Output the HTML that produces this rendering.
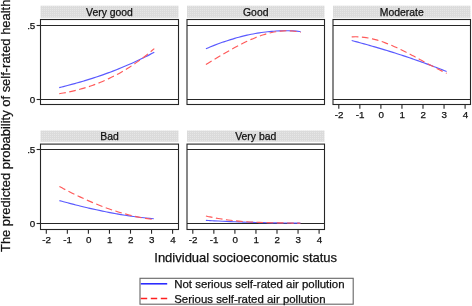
<!DOCTYPE html>
<html><head><meta charset="utf-8"><style>
html,body{margin:0;padding:0;background:#fff;}
body{width:472px;height:306px;overflow:hidden;}
svg{display:block;font-family:"Liberation Sans", sans-serif;will-change:transform;}
text{stroke:#111;stroke-width:0.25px;}
</style></head><body>
<svg width="472" height="306" viewBox="0 0 472 306">
<defs><pattern id="dots" width="2" height="2" patternUnits="userSpaceOnUse"><rect width="2" height="2" fill="#dbdbdb"/><rect width="1" height="1" fill="#e6e6e6"/></pattern></defs>
<rect x="0" y="0" width="472" height="306" fill="#fff"/>
<rect x="40.50" y="5.70" width="138.00" height="12.10" fill="url(#dots)"/>
<text x="109.50" y="15.80" font-size="10.40" text-anchor="middle" fill="#111">Very good</text>
<line x1="40.50" x2="178.50" y1="99.50" y2="99.50" stroke="#262626" stroke-width="1.1"/>
<line x1="40.50" x2="178.50" y1="25.50" y2="25.50" stroke="#262626" stroke-width="1.1"/>
<rect x="40.50" y="19.50" width="138.00" height="85.00" fill="none" stroke="#262626" stroke-width="1.1"/>
<line x1="36.6" x2="40.50" y1="99.50" y2="99.50" stroke="#262626" stroke-width="1.1"/>
<text x="35.3" y="102.90" font-size="9.80" text-anchor="end" fill="#111">0</text>
<line x1="36.6" x2="40.50" y1="25.50" y2="25.50" stroke="#262626" stroke-width="1.1"/>
<text x="35.3" y="28.90" font-size="9.80" text-anchor="end" fill="#111">.5</text>
<path d="M59.20,87.59 C59.89,87.42 61.96,86.91 63.33,86.57 C64.71,86.22 66.09,85.87 67.47,85.52 C68.85,85.16 70.23,84.80 71.60,84.43 C72.98,84.06 74.36,83.68 75.74,83.30 C77.12,82.91 78.50,82.52 79.87,82.13 C81.25,81.73 82.63,81.32 84.01,80.91 C85.39,80.50 86.77,80.08 88.14,79.66 C89.52,79.23 90.90,78.79 92.28,78.35 C93.66,77.91 95.03,77.46 96.41,77.00 C97.79,76.54 99.17,76.08 100.55,75.60 C101.93,75.13 103.30,74.64 104.68,74.15 C106.06,73.66 107.44,73.16 108.82,72.65 C110.20,72.14 111.57,71.62 112.95,71.09 C114.33,70.56 115.71,70.03 117.09,69.48 C118.47,68.93 119.84,68.38 121.22,67.81 C122.60,67.24 123.98,66.67 125.36,66.08 C126.73,65.50 128.11,64.90 129.49,64.29 C130.87,63.69 132.25,63.07 133.63,62.44 C135.00,61.81 136.38,61.18 137.76,60.53 C139.14,59.88 140.52,59.22 141.90,58.55 C143.27,57.88 144.65,57.19 146.03,56.50 C147.41,55.81 148.79,55.10 150.17,54.38 C151.54,53.67 153.61,52.56 154.30,52.20" fill="none" stroke="#5a5aff" stroke-width="1.15"/>
<path d="M59.20,93.74 C59.89,93.63 61.96,93.30 63.33,93.05 C64.71,92.80 66.09,92.54 67.47,92.26 C68.85,91.98 70.23,91.69 71.60,91.38 C72.98,91.07 74.36,90.75 75.74,90.40 C77.12,90.06 78.50,89.70 79.87,89.32 C81.25,88.94 82.63,88.55 84.01,88.13 C85.39,87.72 86.77,87.29 88.14,86.84 C89.52,86.39 90.90,85.92 92.28,85.43 C93.66,84.94 95.03,84.44 96.41,83.91 C97.79,83.38 99.17,82.83 100.55,82.27 C101.93,81.70 103.30,81.11 104.68,80.50 C106.06,79.89 107.44,79.27 108.82,78.62 C110.20,77.96 111.57,77.29 112.95,76.60 C114.33,75.90 115.71,75.19 117.09,74.45 C118.47,73.71 119.84,72.95 121.22,72.16 C122.60,71.38 123.98,70.57 125.36,69.74 C126.73,68.91 128.11,68.06 129.49,67.18 C130.87,66.30 132.25,65.39 133.63,64.47 C135.00,63.54 136.38,62.59 137.76,61.61 C139.14,60.63 140.52,59.63 141.90,58.60 C143.27,57.57 144.65,56.51 146.03,55.43 C147.41,54.35 148.79,53.24 150.17,52.10 C151.54,50.97 153.61,49.20 154.30,48.62" fill="none" stroke="#ff5a5a" stroke-width="1.15" stroke-dasharray="6.7 3.5"/>
<rect x="187.00" y="5.70" width="137.50" height="12.10" fill="url(#dots)"/>
<text x="255.75" y="15.80" font-size="10.40" text-anchor="middle" fill="#111">Good</text>
<line x1="187.00" x2="324.50" y1="99.50" y2="99.50" stroke="#262626" stroke-width="1.1"/>
<line x1="187.00" x2="324.50" y1="25.50" y2="25.50" stroke="#262626" stroke-width="1.1"/>
<rect x="187.00" y="19.50" width="137.50" height="85.00" fill="none" stroke="#262626" stroke-width="1.1"/>
<path d="M205.90,48.74 C206.59,48.46 208.64,47.59 210.02,47.03 C211.39,46.47 212.76,45.92 214.13,45.38 C215.51,44.85 216.88,44.33 218.25,43.82 C219.62,43.31 221.00,42.81 222.37,42.33 C223.74,41.85 225.11,41.38 226.49,40.92 C227.86,40.47 229.23,40.03 230.60,39.60 C231.98,39.17 233.35,38.76 234.72,38.36 C236.09,37.96 237.47,37.58 238.84,37.21 C240.21,36.84 241.58,36.48 242.96,36.14 C244.33,35.81 245.70,35.48 247.07,35.17 C248.45,34.86 249.82,34.57 251.19,34.29 C252.56,34.01 253.94,33.75 255.31,33.50 C256.68,33.25 258.05,33.02 259.43,32.81 C260.80,32.59 262.17,32.39 263.54,32.21 C264.92,32.03 266.29,31.86 267.66,31.72 C269.03,31.57 270.41,31.44 271.78,31.32 C273.15,31.21 274.52,31.11 275.90,31.03 C277.27,30.95 278.64,30.89 280.01,30.84 C281.39,30.80 282.76,30.77 284.13,30.77 C285.50,30.76 286.88,30.77 288.25,30.80 C289.62,30.82 290.99,30.87 292.37,30.94 C293.74,31.00 295.11,31.09 296.48,31.19 C297.86,31.29 299.91,31.50 300.60,31.56" fill="none" stroke="#5a5aff" stroke-width="1.15"/>
<path d="M205.90,64.55 C206.59,64.13 208.64,62.88 210.02,62.05 C211.39,61.22 212.76,60.38 214.13,59.55 C215.51,58.72 216.88,57.89 218.25,57.07 C219.62,56.24 221.00,55.42 222.37,54.61 C223.74,53.80 225.11,52.99 226.49,52.19 C227.86,51.40 229.23,50.61 230.60,49.83 C231.98,49.06 233.35,48.29 234.72,47.54 C236.09,46.79 237.47,46.06 238.84,45.34 C240.21,44.62 241.58,43.92 242.96,43.23 C244.33,42.55 245.70,41.89 247.07,41.24 C248.45,40.60 249.82,39.98 251.19,39.38 C252.56,38.78 253.94,38.21 255.31,37.66 C256.68,37.11 258.05,36.59 259.43,36.10 C260.80,35.61 262.17,35.14 263.54,34.71 C264.92,34.28 266.29,33.87 267.66,33.50 C269.03,33.14 270.41,32.80 271.78,32.50 C273.15,32.20 274.52,31.94 275.90,31.71 C277.27,31.49 278.64,31.30 280.01,31.16 C281.39,31.01 282.76,30.90 284.13,30.84 C285.50,30.78 286.88,30.76 288.25,30.79 C289.62,30.81 290.99,30.88 292.37,31.00 C293.74,31.12 295.11,31.29 296.48,31.51 C297.86,31.73 299.91,32.18 300.60,32.32" fill="none" stroke="#ff5a5a" stroke-width="1.15" stroke-dasharray="6.7 3.5"/>
<rect x="333.00" y="5.70" width="137.50" height="12.10" fill="url(#dots)"/>
<text x="401.75" y="15.80" font-size="10.40" text-anchor="middle" fill="#111">Moderate</text>
<line x1="333.00" x2="470.50" y1="99.50" y2="99.50" stroke="#262626" stroke-width="1.1"/>
<line x1="333.00" x2="470.50" y1="25.50" y2="25.50" stroke="#262626" stroke-width="1.1"/>
<rect x="333.00" y="19.50" width="137.50" height="85.00" fill="none" stroke="#262626" stroke-width="1.1"/>
<line x1="338.80" x2="338.80" y1="104.50" y2="108.70" stroke="#262626" stroke-width="1.1"/>
<text x="339.10" y="118.15" font-size="9.80" text-anchor="middle" fill="#111">-2</text>
<line x1="359.85" x2="359.85" y1="104.50" y2="108.70" stroke="#262626" stroke-width="1.1"/>
<text x="360.15" y="118.15" font-size="9.80" text-anchor="middle" fill="#111">-1</text>
<line x1="380.90" x2="380.90" y1="104.50" y2="108.70" stroke="#262626" stroke-width="1.1"/>
<text x="381.20" y="118.15" font-size="9.80" text-anchor="middle" fill="#111">0</text>
<line x1="401.95" x2="401.95" y1="104.50" y2="108.70" stroke="#262626" stroke-width="1.1"/>
<text x="402.25" y="118.15" font-size="9.80" text-anchor="middle" fill="#111">1</text>
<line x1="423.00" x2="423.00" y1="104.50" y2="108.70" stroke="#262626" stroke-width="1.1"/>
<text x="423.30" y="118.15" font-size="9.80" text-anchor="middle" fill="#111">2</text>
<line x1="444.05" x2="444.05" y1="104.50" y2="108.70" stroke="#262626" stroke-width="1.1"/>
<text x="444.35" y="118.15" font-size="9.80" text-anchor="middle" fill="#111">3</text>
<line x1="465.10" x2="465.10" y1="104.50" y2="108.70" stroke="#262626" stroke-width="1.1"/>
<text x="465.40" y="118.15" font-size="9.80" text-anchor="middle" fill="#111">4</text>
<path d="M351.70,40.54 C352.39,40.72 354.45,41.26 355.83,41.62 C357.20,41.99 358.58,42.36 359.95,42.73 C361.33,43.10 362.70,43.48 364.08,43.86 C365.45,44.24 366.83,44.62 368.20,45.01 C369.58,45.39 370.96,45.78 372.33,46.18 C373.71,46.57 375.08,46.97 376.46,47.38 C377.83,47.78 379.21,48.18 380.58,48.59 C381.96,49.00 383.33,49.42 384.71,49.84 C386.08,50.25 387.46,50.68 388.83,51.10 C390.21,51.53 391.59,51.96 392.96,52.39 C394.34,52.83 395.71,53.27 397.09,53.71 C398.46,54.15 399.84,54.60 401.21,55.05 C402.59,55.50 403.96,55.95 405.34,56.41 C406.71,56.87 408.09,57.33 409.47,57.80 C410.84,58.27 412.22,58.74 413.59,59.22 C414.97,59.69 416.34,60.17 417.72,60.66 C419.09,61.14 420.47,61.63 421.84,62.12 C423.22,62.62 424.59,63.11 425.97,63.62 C427.34,64.12 428.72,64.62 430.10,65.14 C431.47,65.65 432.85,66.16 434.22,66.68 C435.60,67.20 436.97,67.73 438.35,68.26 C439.72,68.78 441.10,69.32 442.47,69.86 C443.85,70.39 445.91,71.21 446.60,71.48" fill="none" stroke="#5a5aff" stroke-width="1.15"/>
<path d="M351.70,36.87 C352.39,36.85 354.45,36.74 355.83,36.75 C357.20,36.75 358.58,36.80 359.95,36.90 C361.33,36.99 362.70,37.13 364.08,37.31 C365.45,37.48 366.83,37.70 368.20,37.96 C369.58,38.21 370.96,38.50 372.33,38.83 C373.71,39.16 375.08,39.52 376.46,39.91 C377.83,40.30 379.21,40.73 380.58,41.18 C381.96,41.63 383.33,42.11 384.71,42.62 C386.08,43.13 387.46,43.66 388.83,44.22 C390.21,44.77 391.59,45.36 392.96,45.95 C394.34,46.55 395.71,47.18 397.09,47.81 C398.46,48.45 399.84,49.11 401.21,49.77 C402.59,50.44 403.96,51.13 405.34,51.82 C406.71,52.52 408.09,53.23 409.47,53.94 C410.84,54.66 412.22,55.38 413.59,56.11 C414.97,56.84 416.34,57.58 417.72,58.32 C419.09,59.06 420.47,59.81 421.84,60.55 C423.22,61.29 424.59,62.04 425.97,62.78 C427.34,63.52 428.72,64.26 430.10,64.99 C431.47,65.73 432.85,66.46 434.22,67.18 C435.60,67.90 436.97,68.61 438.35,69.31 C439.72,70.01 441.10,70.70 442.47,71.38 C443.85,72.05 445.91,73.03 446.60,73.36" fill="none" stroke="#ff5a5a" stroke-width="1.15" stroke-dasharray="6.7 3.5"/>
<rect x="40.50" y="130.50" width="138.00" height="11.25" fill="url(#dots)"/>
<text x="109.50" y="139.75" font-size="10.40" text-anchor="middle" fill="#111">Bad</text>
<line x1="40.50" x2="178.50" y1="223.50" y2="223.50" stroke="#262626" stroke-width="1.1"/>
<line x1="40.50" x2="178.50" y1="149.50" y2="149.50" stroke="#262626" stroke-width="1.1"/>
<rect x="40.50" y="144.10" width="138.00" height="85.40" fill="none" stroke="#262626" stroke-width="1.1"/>
<line x1="36.6" x2="40.50" y1="223.50" y2="223.50" stroke="#262626" stroke-width="1.1"/>
<text x="35.3" y="226.90" font-size="9.80" text-anchor="end" fill="#111">0</text>
<line x1="36.6" x2="40.50" y1="149.50" y2="149.50" stroke="#262626" stroke-width="1.1"/>
<text x="35.3" y="152.90" font-size="9.80" text-anchor="end" fill="#111">.5</text>
<line x1="46.30" x2="46.30" y1="229.50" y2="233.70" stroke="#262626" stroke-width="1.1"/>
<text x="46.60" y="243.15" font-size="9.80" text-anchor="middle" fill="#111">-2</text>
<line x1="67.35" x2="67.35" y1="229.50" y2="233.70" stroke="#262626" stroke-width="1.1"/>
<text x="67.65" y="243.15" font-size="9.80" text-anchor="middle" fill="#111">-1</text>
<line x1="88.40" x2="88.40" y1="229.50" y2="233.70" stroke="#262626" stroke-width="1.1"/>
<text x="88.70" y="243.15" font-size="9.80" text-anchor="middle" fill="#111">0</text>
<line x1="109.45" x2="109.45" y1="229.50" y2="233.70" stroke="#262626" stroke-width="1.1"/>
<text x="109.75" y="243.15" font-size="9.80" text-anchor="middle" fill="#111">1</text>
<line x1="130.50" x2="130.50" y1="229.50" y2="233.70" stroke="#262626" stroke-width="1.1"/>
<text x="130.80" y="243.15" font-size="9.80" text-anchor="middle" fill="#111">2</text>
<line x1="151.55" x2="151.55" y1="229.50" y2="233.70" stroke="#262626" stroke-width="1.1"/>
<text x="151.85" y="243.15" font-size="9.80" text-anchor="middle" fill="#111">3</text>
<line x1="172.60" x2="172.60" y1="229.50" y2="233.70" stroke="#262626" stroke-width="1.1"/>
<text x="172.90" y="243.15" font-size="9.80" text-anchor="middle" fill="#111">4</text>
<path d="M59.40,200.60 C60.08,200.78 62.14,201.35 63.50,201.72 C64.87,202.09 66.24,202.45 67.61,202.81 C68.98,203.17 70.34,203.53 71.71,203.89 C73.08,204.24 74.45,204.59 75.82,204.94 C77.19,205.28 78.55,205.63 79.92,205.96 C81.29,206.30 82.66,206.63 84.03,206.96 C85.39,207.29 86.76,207.62 88.13,207.94 C89.50,208.25 90.87,208.57 92.23,208.88 C93.60,209.19 94.97,209.49 96.34,209.79 C97.71,210.09 99.08,210.39 100.44,210.68 C101.81,210.96 103.18,211.25 104.55,211.53 C105.92,211.80 107.28,212.08 108.65,212.34 C110.02,212.61 111.39,212.87 112.76,213.12 C114.12,213.38 115.49,213.63 116.86,213.87 C118.23,214.11 119.60,214.35 120.97,214.58 C122.33,214.81 123.70,215.03 125.07,215.25 C126.44,215.46 127.81,215.67 129.17,215.88 C130.54,216.08 131.91,216.28 133.28,216.47 C134.65,216.65 136.01,216.84 137.38,217.01 C138.75,217.19 140.12,217.35 141.49,217.51 C142.86,217.67 144.22,217.83 145.59,217.97 C146.96,218.11 148.33,218.25 149.70,218.38 C151.06,218.51 153.12,218.68 153.80,218.74" fill="none" stroke="#5a5aff" stroke-width="1.15"/>
<path d="M59.40,186.47 C60.08,186.84 62.14,187.94 63.50,188.66 C64.87,189.39 66.24,190.10 67.61,190.80 C68.98,191.51 70.34,192.20 71.71,192.89 C73.08,193.57 74.45,194.25 75.82,194.91 C77.19,195.58 78.55,196.23 79.92,196.88 C81.29,197.52 82.66,198.16 84.03,198.78 C85.39,199.40 86.76,200.01 88.13,200.62 C89.50,201.22 90.87,201.81 92.23,202.39 C93.60,202.96 94.97,203.53 96.34,204.09 C97.71,204.64 99.08,205.19 100.44,205.72 C101.81,206.25 103.18,206.77 104.55,207.28 C105.92,207.78 107.28,208.28 108.65,208.76 C110.02,209.24 111.39,209.71 112.76,210.17 C114.12,210.62 115.49,211.06 116.86,211.49 C118.23,211.92 119.60,212.34 120.97,212.74 C122.33,213.14 123.70,213.53 125.07,213.91 C126.44,214.28 127.81,214.64 129.17,214.99 C130.54,215.33 131.91,215.66 133.28,215.98 C134.65,216.30 136.01,216.60 137.38,216.89 C138.75,217.17 140.12,217.44 141.49,217.70 C142.86,217.96 144.22,218.20 145.59,218.42 C146.96,218.65 148.33,218.86 149.70,219.05 C151.06,219.24 153.12,219.49 153.80,219.58" fill="none" stroke="#ff5a5a" stroke-width="1.15" stroke-dasharray="6.7 3.5"/>
<rect x="187.00" y="130.50" width="137.50" height="11.25" fill="url(#dots)"/>
<text x="255.75" y="139.75" font-size="10.40" text-anchor="middle" fill="#111">Very bad</text>
<line x1="187.00" x2="324.50" y1="223.50" y2="223.50" stroke="#262626" stroke-width="1.1"/>
<line x1="187.00" x2="324.50" y1="149.50" y2="149.50" stroke="#262626" stroke-width="1.1"/>
<rect x="187.00" y="144.10" width="137.50" height="85.40" fill="none" stroke="#262626" stroke-width="1.1"/>
<line x1="192.80" x2="192.80" y1="229.50" y2="233.70" stroke="#262626" stroke-width="1.1"/>
<text x="193.10" y="243.15" font-size="9.80" text-anchor="middle" fill="#111">-2</text>
<line x1="213.85" x2="213.85" y1="229.50" y2="233.70" stroke="#262626" stroke-width="1.1"/>
<text x="214.15" y="243.15" font-size="9.80" text-anchor="middle" fill="#111">-1</text>
<line x1="234.90" x2="234.90" y1="229.50" y2="233.70" stroke="#262626" stroke-width="1.1"/>
<text x="235.20" y="243.15" font-size="9.80" text-anchor="middle" fill="#111">0</text>
<line x1="255.95" x2="255.95" y1="229.50" y2="233.70" stroke="#262626" stroke-width="1.1"/>
<text x="256.25" y="243.15" font-size="9.80" text-anchor="middle" fill="#111">1</text>
<line x1="277.00" x2="277.00" y1="229.50" y2="233.70" stroke="#262626" stroke-width="1.1"/>
<text x="277.30" y="243.15" font-size="9.80" text-anchor="middle" fill="#111">2</text>
<line x1="298.05" x2="298.05" y1="229.50" y2="233.70" stroke="#262626" stroke-width="1.1"/>
<text x="298.35" y="243.15" font-size="9.80" text-anchor="middle" fill="#111">3</text>
<line x1="319.10" x2="319.10" y1="229.50" y2="233.70" stroke="#262626" stroke-width="1.1"/>
<text x="319.40" y="243.15" font-size="9.80" text-anchor="middle" fill="#111">4</text>
<path d="M205.90,220.36 C206.58,220.40 208.64,220.52 210.01,220.59 C211.38,220.67 212.75,220.74 214.12,220.82 C215.49,220.89 216.86,220.96 218.23,221.03 C219.60,221.09 220.97,221.16 222.33,221.23 C223.70,221.29 225.07,221.35 226.44,221.42 C227.81,221.48 229.18,221.54 230.55,221.60 C231.92,221.65 233.29,221.71 234.66,221.77 C236.03,221.82 237.40,221.87 238.77,221.92 C240.14,221.98 241.51,222.02 242.88,222.07 C244.25,222.12 245.62,222.17 246.99,222.21 C248.36,222.25 249.73,222.30 251.10,222.34 C252.47,222.38 253.83,222.42 255.20,222.46 C256.57,222.49 257.94,222.53 259.31,222.56 C260.68,222.60 262.05,222.63 263.42,222.66 C264.79,222.69 266.16,222.72 267.53,222.75 C268.90,222.78 270.27,222.80 271.64,222.82 C273.01,222.85 274.38,222.87 275.75,222.89 C277.12,222.91 278.49,222.93 279.86,222.95 C281.23,222.97 282.60,222.98 283.97,223.00 C285.33,223.01 286.70,223.02 288.07,223.03 C289.44,223.04 290.81,223.05 292.18,223.06 C293.55,223.07 294.92,223.07 296.29,223.08 C297.66,223.08 299.72,223.08 300.40,223.08" fill="none" stroke="#5a5aff" stroke-width="1.15"/>
<path d="M205.90,215.98 C206.58,216.13 208.64,216.61 210.01,216.90 C211.38,217.19 212.75,217.47 214.12,217.73 C215.49,218.00 216.86,218.24 218.23,218.48 C219.60,218.72 220.97,218.94 222.33,219.15 C223.70,219.36 225.07,219.56 226.44,219.74 C227.81,219.93 229.18,220.10 230.55,220.27 C231.92,220.43 233.29,220.58 234.66,220.73 C236.03,220.87 237.40,221.00 238.77,221.13 C240.14,221.25 241.51,221.36 242.88,221.47 C244.25,221.58 245.62,221.67 246.99,221.76 C248.36,221.85 249.73,221.94 251.10,222.01 C252.47,222.09 253.83,222.16 255.20,222.22 C256.57,222.28 257.94,222.34 259.31,222.39 C260.68,222.44 262.05,222.49 263.42,222.53 C264.79,222.58 266.16,222.61 267.53,222.65 C268.90,222.68 270.27,222.71 271.64,222.74 C273.01,222.77 274.38,222.79 275.75,222.82 C277.12,222.84 278.49,222.86 279.86,222.88 C281.23,222.90 282.60,222.92 283.97,222.94 C285.33,222.96 286.70,222.98 288.07,223.00 C289.44,223.02 290.81,223.04 292.18,223.06 C293.55,223.08 294.92,223.10 296.29,223.12 C297.66,223.15 299.72,223.19 300.40,223.20" fill="none" stroke="#ff5a5a" stroke-width="1.15" stroke-dasharray="6.7 3.5"/>
<text x="245.7" y="262.4" font-size="13.0" text-anchor="middle" fill="#111">Individual socioeconomic status</text>
<text transform="translate(10.1,125.8) rotate(-90)" x="0" y="0" font-size="12.95" text-anchor="middle" fill="#111">The predicted probability of self-rated health</text>
<rect x="140" y="278.3" width="213.2" height="25.9" fill="#fff" stroke="#666" stroke-width="1.1"/>
<line x1="140.8" x2="167.2" y1="283.8" y2="283.8" stroke="#2020ff" stroke-width="1.5"/>
<line x1="140.8" x2="167.2" y1="298.5" y2="298.5" stroke="#ff2020" stroke-width="1.5" stroke-dasharray="6.4 3.6"/>
<text x="174.2" y="288.2" font-size="11.45" fill="#111">Not serious self-rated air pollution</text>
<text x="174.2" y="302.7" font-size="11.45" fill="#111">Serious self-rated air pollution</text>
</svg>
</body></html>
